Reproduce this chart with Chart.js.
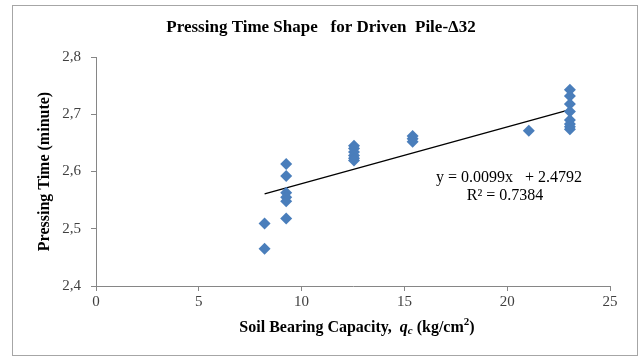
<!DOCTYPE html>
<html>
<head>
<meta charset="utf-8">
<title>Pressing Time Shape for Driven Pile</title>
<script src="https://cdn.jsdelivr.net/npm/chart.js@4.4.1/dist/chart.umd.min.js"></script>
<style>
  html, body { margin: 0; padding: 0; background: #fff; }
  #wrap { position: relative; width: 639px; height: 358px; }
</style>
</head>
<body>
<div id="wrap"><canvas id="chart"></canvas></div>
<script>
// qc (kg/cm2) and pressing time (minute)
const soilQc = [
  8.2, 8.2,
  9.25, 9.25, 9.25, 9.25, 9.25, 9.25,
  12.55, 12.55, 12.55, 12.55, 12.55, 12.55,
  15.4, 15.4, 15.4,
  21.05,
  23.05, 23.05, 23.05, 23.05, 23.05, 23.05, 23.05, 23.05
];
const pressTime = [
  2.509, 2.465,
  2.613, 2.592, 2.563, 2.555, 2.548, 2.518,
  2.645, 2.640, 2.634, 2.628, 2.623, 2.619,
  2.662, 2.657, 2.652,
  2.671,
  2.743, 2.732, 2.718, 2.705, 2.690, 2.683, 2.678, 2.674
];
// linear trend line ends
const trendX = [8.2, 23.05];
const trendY = [2.561, 2.708];

const xTicks = [0, 5, 10, 15, 20, 25];
const yTicks = [2.4, 2.5, 2.6, 2.7, 2.8];

const titleText = 'Pressing Time Shape   for Driven  Pile-\u039432';
const yTitle = 'Pressing Time (minute)';
const eqLines = ['y = 0.0099x   + 2.4792', 'R\u00b2 = 0.7384'];

const SERIF = '"Liberation Serif", "Times New Roman", serif';
const AXIS = '#868686';

// titles, equation label and outer frame
const decor = {
  id: 'decor',
  beforeDraw(chart) {
    const ctx = chart.ctx;
    ctx.save();
    ctx.fillStyle = '#fff';
    ctx.fillRect(0, 0, chart.width, chart.height);
    ctx.restore();
  },
  afterDraw(chart) {
    const ctx = chart.ctx;
    const ys = chart.scales.y;
    ctx.save();
    ctx.strokeStyle = '#a6a6a6';
    ctx.lineWidth = 1;
    ctx.strokeRect(12.5, 5.5, 625, 350);

    ctx.fillStyle = '#000';
    ctx.textBaseline = 'middle';
    ctx.textAlign = 'center';
    ctx.font = 'bold 17px ' + SERIF;
    ctx.fillText(titleText, 321, 28);

    // y axis title
    ctx.save();
    ctx.translate(45, (ys.top + ys.bottom) / 2);
    ctx.rotate(-Math.PI / 2);
    ctx.font = 'bold 16px ' + SERIF;
    ctx.fillText(yTitle, 0, 0);
    ctx.restore();

    // x axis title, mixed styles
    const parts = [
      { t: 'Soil Bearing Capacity,  ', f: 'bold 16px ', dy: 0 },
      { t: 'q', f: 'italic bold 16px ', dy: 0 },
      { t: 'c', f: 'italic bold 11px ', dy: 3 },
      { t: ' (kg/cm', f: 'bold 16px ', dy: 0 },
      { t: '2', f: 'bold 11px ', dy: -6 },
      { t: ')', f: 'bold 16px ', dy: 0 }
    ];
    let w = 0;
    parts.forEach(p => { ctx.font = p.f + SERIF; p.w = ctx.measureText(p.t).width; w += p.w; });
    let x = 357 - w / 2;
    ctx.textAlign = 'left';
    parts.forEach(p => {
      ctx.font = p.f + SERIF;
      ctx.fillText(p.t, x, 328 + p.dy);
      x += p.w;
    });

    // regression equation
    ctx.textAlign = 'center';
    ctx.font = '16px ' + SERIF;
    ctx.fillText(eqLines[0], 509, 178);
    ctx.fillText(eqLines[1], 505, 196);
    ctx.restore();
  }
};

const points = soilQc.map((v, i) => ({ x: v, y: pressTime[i] }));
const trend = trendX.map((v, i) => ({ x: v, y: trendY[i] }));

new Chart(document.getElementById('chart'), {
  type: 'scatter',
  data: {
    datasets: [
      {
        label: 'Pressing time',
        data: points,
        pointStyle: 'rectRot',
        pointRadius: 6,
        pointHoverRadius: 6,
        backgroundColor: '#4a7ebb',
        borderColor: '#4a7ebb',
        borderWidth: 0
      },
      {
        type: 'line',
        label: 'Linear trend',
        data: trend,
        borderColor: '#000',
        borderWidth: 1.3,
        pointRadius: 0,
        fill: false
      }
    ]
  },
  options: {
    responsive: true,
    maintainAspectRatio: false,
    animation: false,
    events: [],
    layout: { padding: { left: 0, top: 57, right: 29, bottom: 0 } },
    plugins: {
      legend: { display: false },
      title: { display: false },
      tooltip: { enabled: false }
    },
    scales: {
      x: {
        type: 'linear',
        min: 0, max: 25,
        afterFit: s => { s.height = 72; },
        afterBuildTicks: s => { s.ticks = xTicks.map(v => ({ value: v })); },
        grid: { display: true, drawOnChartArea: false, drawTicks: true, tickLength: 5, color: AXIS },
        border: { display: true, color: AXIS },
        ticks: { color: '#404040', font: { family: SERIF, size: 15 }, padding: 2, maxRotation: 0 }
      },
      y: {
        type: 'linear',
        min: 2.4, max: 2.8,
        afterFit: s => { s.width = 96; },
        afterBuildTicks: s => { s.ticks = yTicks.map(v => ({ value: v })); },
        grid: { display: true, drawOnChartArea: false, drawTicks: true, tickLength: 5, color: AXIS },
        border: { display: true, color: AXIS },
        ticks: {
          color: '#404040', font: { family: SERIF, size: 15 }, padding: 10,
          callback: v => v.toFixed(1).replace('.', ',')
        }
      }
    }
  },
  plugins: [decor]
});
</script>
</body>
</html>
